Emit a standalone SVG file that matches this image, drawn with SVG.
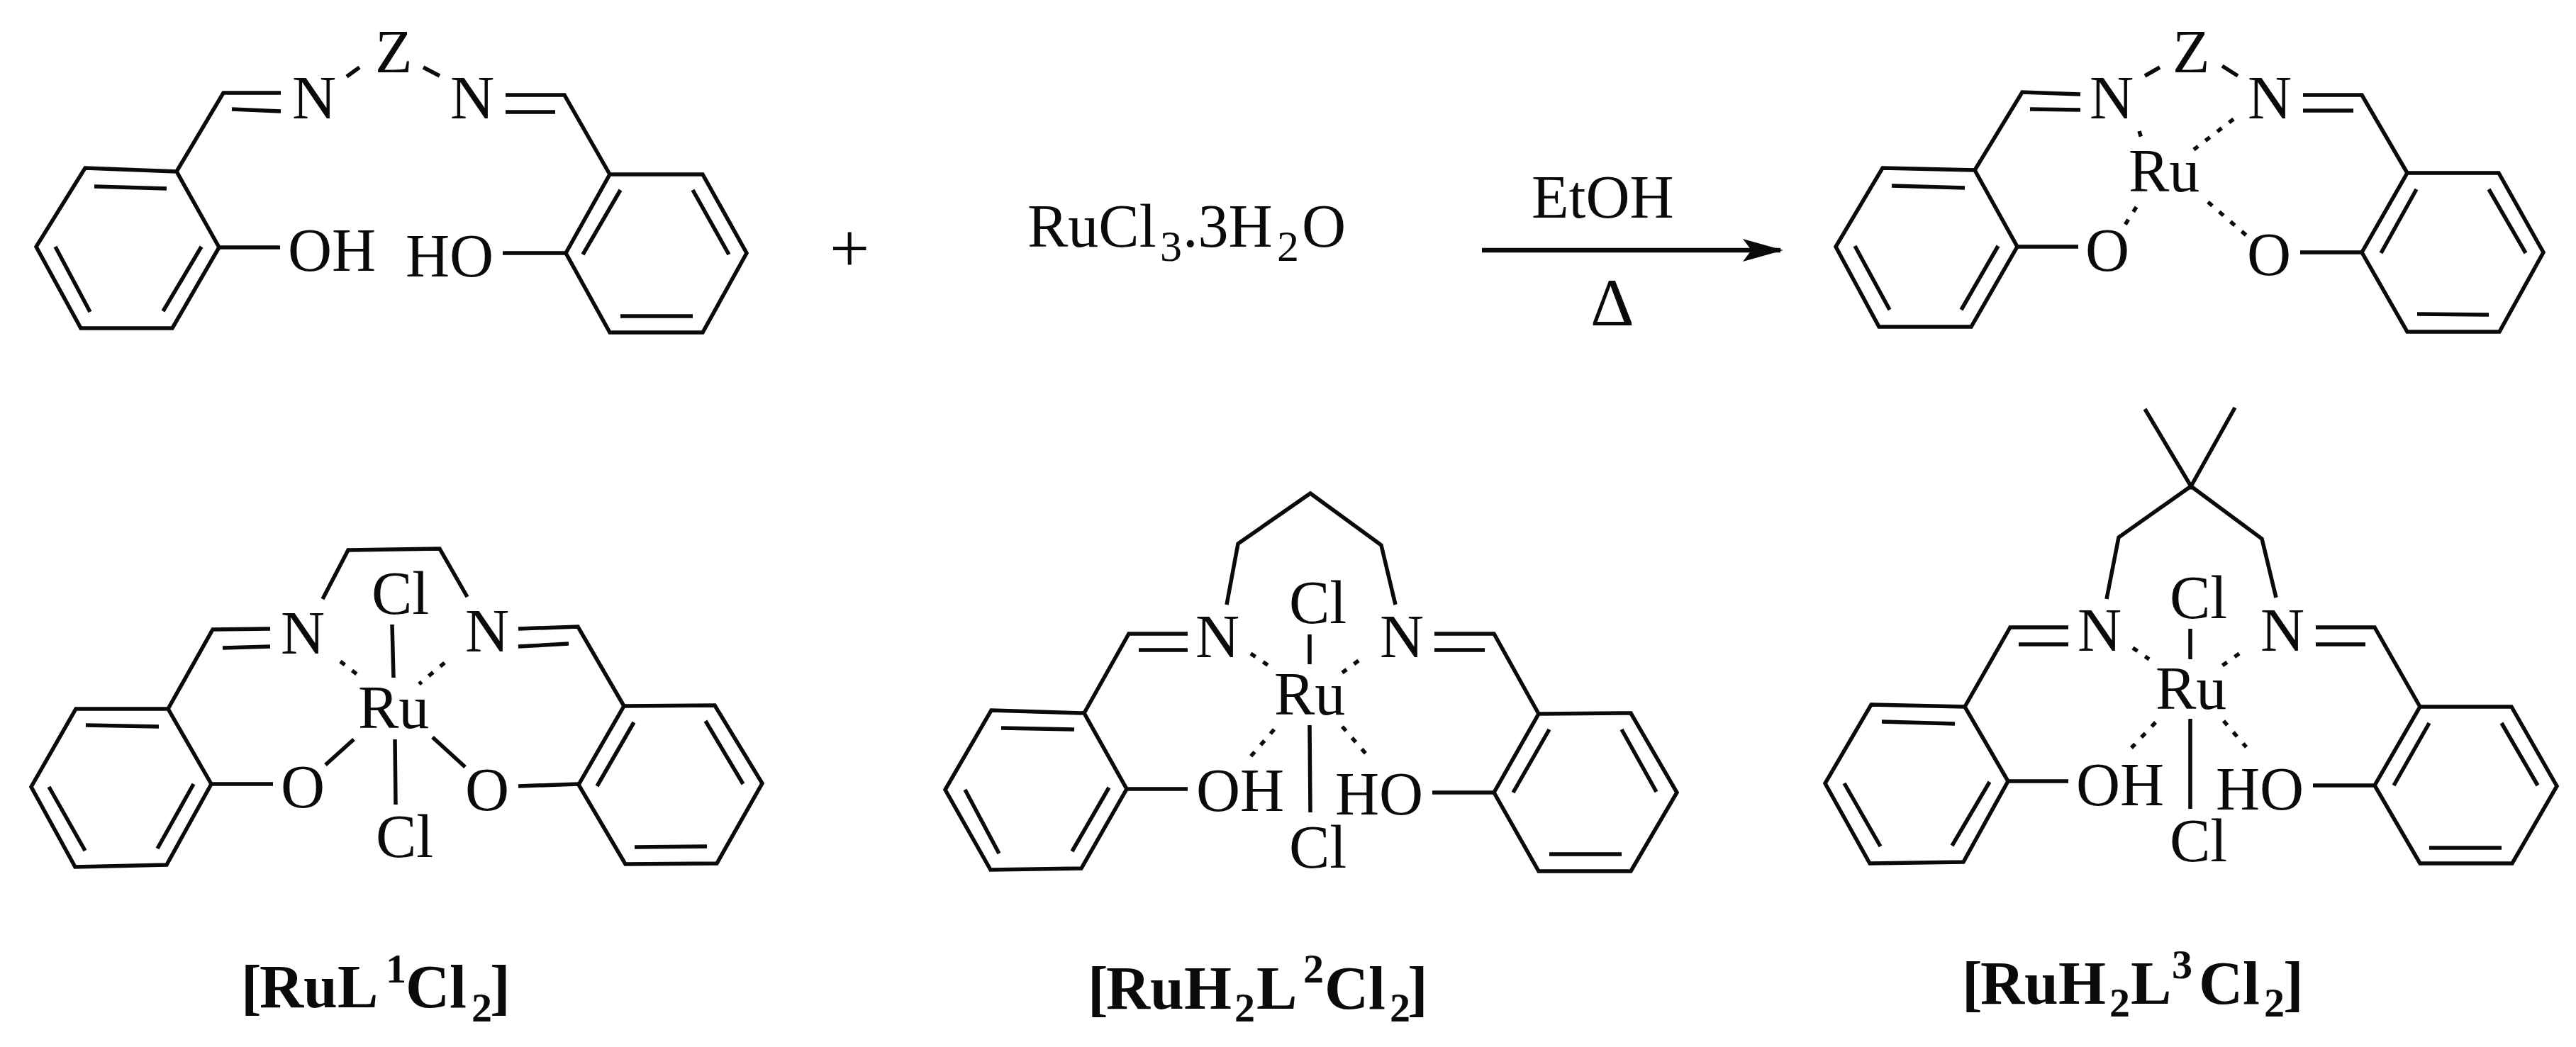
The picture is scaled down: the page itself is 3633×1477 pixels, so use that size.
<svg xmlns="http://www.w3.org/2000/svg" width="3633" height="1477" viewBox="0 0 3633 1477">
<style>
.b{fill:none;stroke:#0a0a0a;stroke-width:5.5;stroke-linecap:butt;stroke-linejoin:miter}
.d{fill:none;stroke:#0a0a0a;stroke-width:5.5;stroke-dasharray:8 13}
text{font-family:"Liberation Serif","Times New Roman",serif;font-size:86px;fill:#0a0a0a}
.s{font-size:62px}
.t{font-weight:bold;font-size:86px}
.t .s{font-size:58px}
</style>
<defs>
<marker id="head" markerUnits="userSpaceOnUse" markerWidth="60" markerHeight="40" refX="53" refY="20" orient="auto"><path d="M0 4L57 20L0 36L12 20Z" fill="#0a0a0a"/></marker>
</defs>
<rect width="3633" height="1477" fill="#fff"/>
<g id="connectors">
<path d="M2090 353H2511" fill="none" stroke="#0a0a0a" stroke-width="6.5" marker-end="url(#head)"/>
</g>
<g id="ligand">
<path class="b" d="M120 237L249 242L309 349L243 463H114L51 348Z"/>
<path class="b" d="M133 263L235 266M78 348L127 440M284 348L230 439M249 242L315 131H396M327 154L396 157M489 108L507 95M597 95L620 107M713 134H796L860 246M713 158H783"/>
<path class="b" d="M860 246H991L1053 357L991 469H860L798 357Z"/>
<path class="b" d="M875 268L822 359M977 268L1028 359M875 446H977M309 349H395M709 357H798"/>
<text x="412" y="167">N</text><text x="529" y="102">Z</text><text x="635" y="167">N</text>
<text x="406" y="382">OH</text><text x="572" y="390">HO</text>
</g>
<g id="plus"><text x="1170" y="384" style="font-size:100px">+</text></g>
<g id="reagent">
<text y="348"><tspan x="1449">RuCl</tspan><tspan class="s" x="1636" y="368">3</tspan><tspan x="1668" y="348">.3H</tspan><tspan class="s" x="1801" y="368">2</tspan><tspan x="1836" y="348">O</tspan></text>
</g>
<g id="conditions">
<text x="2160" y="307">EtOH</text>
<text x="2243" y="459" style="font-size:96px">Δ</text>
</g>
<g id="product">
<path class="b" d="M2655 237L2785 240L2845 348L2780 461H2650L2589 348Z"/>
<path class="b" d="M2668 262L2771 265M2616 347L2665 437M2818 347L2766 437M2785 240L2852 130L2934 133M2863 154L2934 155M3025 107L3046 95M3134 93L3156 107M3248 134H3331L3395 244M3248 156H3319"/>
<path class="b" d="M3395 244H3524L3587 356L3525 468H3395L3331 356Z"/>
<path class="b" d="M3408 267L3358 357M3510 267L3562 357M3409 443L3510 444M2845 348H2931M3244 356H3331"/>
<path class="d" d="M3017 185L3020 195M3150 168L3094 211M3013 292L2997 317M3114 285L3168 332"/>
<text x="2947" y="167">N</text><text x="3064" y="102">Z</text><text x="3170" y="167">N</text>
<text x="3002" y="270">Ru</text><text x="2941" y="382">O</text><text x="3169" y="388">O</text>
</g>
<g id="complex1">
<path class="b" d="M107 1000H237L298 1106L235 1220L106 1223L44 1110Z"/>
<path class="b" d="M121 1023L224 1025M69 1110L120 1200M273 1106L222 1197M237 1000L300 888L381 887M314 914L381 912M455 845L491 776L620 774L659 842M553 881L555 956M499 1043L459 1079M610 1040L656 1082M557 1043L558 1135M298 1106H385M731 1109L816 1106"/>
<path class="b" d="M880 996L1008 995L1075 1105L1011 1218L882 1219L816 1107Z"/>
<path class="b" d="M894 1019L842 1109M995 1017L1048 1106M895 1195L997 1194M731 887L815 884L880 996M731 912L802 908"/>
<path class="d" d="M480 933L503 951M627 935L591 965"/>
<text x="396" y="922">N</text><text x="656" y="919">N</text><text x="524" y="866">Cl</text><text x="505" y="1027">Ru</text>
<text x="396" y="1139">O</text><text x="656" y="1143">O</text><text x="530" y="1209">Cl</text>
<text class="t" y="1421"><tspan x="340">[</tspan><tspan x="366">RuL</tspan><tspan class="s" x="544" y="1386">1</tspan><tspan x="572" y="1421">Cl</tspan><tspan class="s" x="665" y="1441">2</tspan><tspan x="691" y="1421">]</tspan></text>
</g>
<g id="complex2">
<path class="b" d="M1398 1002L1529 1006L1589 1113L1525 1225L1397 1227L1333 1114Z"/>
<path class="b" d="M1412 1027L1515 1029M1361 1114L1409 1204M1564 1111L1512 1201M1529 1006L1592 894H1675M1606 917H1675M1730 853L1746 767L1848 696L1948 769L1968 853M1847 895V937M1847 1023L1848 1146M1589 1113H1675M2020 1118H2107"/>
<path class="b" d="M2170 1007L2300 1006L2365 1118L2300 1229H2170L2107 1118Z"/>
<path class="b" d="M2185 1029L2134 1118M2287 1029L2336 1117M2185 1205H2287M2023 894H2107L2170 1007M2023 917H2094"/>
<path class="d" d="M1764 922L1789 939M1916 932L1893 949M1797 1029L1764 1067M1893 1025L1927 1064"/>
<text x="1686" y="927">N</text><text x="1946" y="927">N</text><text x="1818" y="879">Cl</text><text x="1797" y="1008">Ru</text>
<text x="1687" y="1144">OH</text><text x="1883" y="1149">HO</text><text x="1818" y="1224">Cl</text>
<text class="t" y="1423"><tspan x="1534">[</tspan><tspan x="1560">RuH</tspan><tspan class="s" x="1741" y="1441">2</tspan><tspan x="1772" y="1423">L</tspan><tspan class="s" x="1838" y="1386">2</tspan><tspan x="1868" y="1423">Cl</tspan><tspan class="s" x="1960" y="1441">2</tspan><tspan x="1985" y="1423">]</tspan></text>
</g>
<g id="complex3">
<path class="b" d="M2639 994L2771 997L2832 1102L2769 1216L2637 1218L2574 1105Z"/>
<path class="b" d="M2654 1018L2757 1021M2601 1105L2652 1194M2806 1103L2753 1193M2771 997L2835 885H2917M2847 909H2917M2971 845L2988 758L3090 686L3190 760L3210 843M3025 577L3090 686L3152 575M3089 887V930M3089 1014V1141M2832 1102H2917M3262 1108H3349"/>
<path class="b" d="M3413 997H3542L3606 1109L3543 1218H3413L3349 1108Z"/>
<path class="b" d="M3426 1020L3376 1108M3528 1020L3579 1108M3426 1196H3528M3266 885H3349L3413 997M3266 909H3336"/>
<path class="d" d="M3008 914L3031 930M3158 922L3134 939M3040 1019L3006 1055M3136 1017L3168 1054"/>
<text x="2930" y="918">N</text><text x="3188" y="918">N</text><text x="3060" y="872">Cl</text><text x="3040" y="1000">Ru</text>
<text x="2928" y="1136">OH</text><text x="3125" y="1142">HO</text><text x="3060" y="1215">Cl</text>
<text class="t" y="1416"><tspan x="2767">[</tspan><tspan x="2793">RuH</tspan><tspan class="s" x="2975" y="1434">2</tspan><tspan x="3005" y="1416">L</tspan><tspan class="s" x="3063" y="1380">3</tspan><tspan x="3101" y="1416">Cl</tspan><tspan class="s" x="3193" y="1434">2</tspan><tspan x="3220" y="1416">]</tspan></text>
</g>
</svg>
